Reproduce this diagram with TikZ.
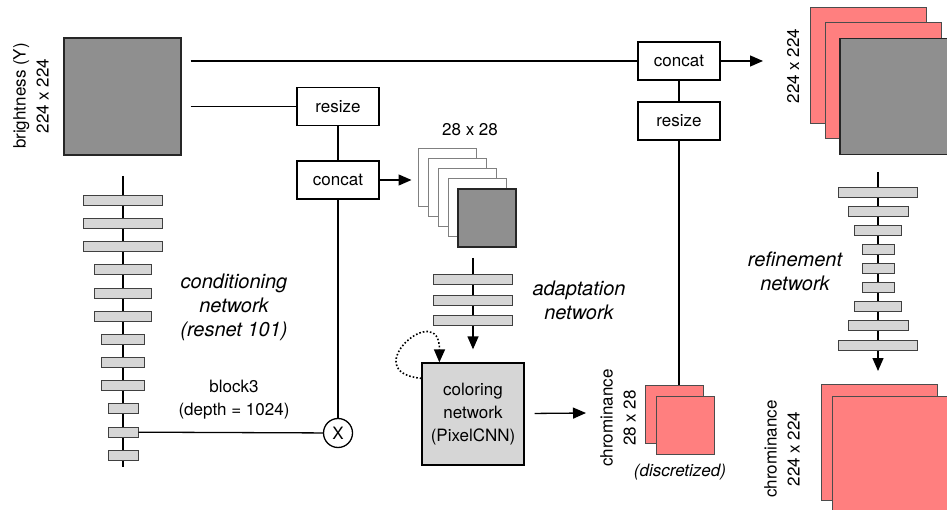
\documentclass[tikz,border=0pt]{standalone}
\usepackage{fontspec}
\setsansfont{TeX Gyre Heros}
\usetikzlibrary{arrows.meta,positioning}
\definecolor{mapgray}{HTML}{8F8F8F}
\definecolor{layergray}{HTML}{D6D6D6}
\definecolor{chroma}{HTML}{FF7F7F}

\begin{document}
\begin{tikzpicture}[x=1pt,y=-1pt,>={Triangle[length=13pt,width=11pt]},
  line width=1.3pt,node distance=60pt,
  every node/.style={font=\sffamily\fontsize{17}{23}\selectfont,align=center},
  note/.style={font=\sffamily\itshape\fontsize{20}{24}\selectfont},
  main node/.style={rectangle,draw,fill=white,inner sep=0pt,
    minimum width=82pt,minimum height=38pt},
  gray map/.style={rectangle,draw=black!85,fill=mapgray,inner sep=0pt},
  white map/.style={rectangle,draw=gray,fill=white,line width=1pt,inner sep=0pt,
    minimum size=58pt},
  chroma map/.style={rectangle,draw=black!70,fill=chroma,line width=1pt,inner sep=0pt},
  layer/.style={rectangle,draw=black!75,fill=layergray,line width=1pt,
    inner sep=0pt,minimum height=10pt}]

  \useasboundingbox (0,0) rectangle (947,510);
  \clip (0,0) rectangle (947,510);

  % input and feature maps
  \node[gray map,minimum size=117pt] (Bright) at (122.5,96.5) {};
  \node[rotate=90] (BrightLbl) at (31,96) {brightness (Y)\\224 x 224};
  \foreach \i in {0,...,3}
    \node[white map] (Feat\i) at (447+10*\i,178+10*\i) {};
  \node[gray map,minimum size=58pt] (Feat4) at (487,218) {};
  \node (FeatLbl) at (470,130) {28 x 28};

  \node[main node] (ResizeA) at (338,106.5) {resize};
  \node[main node] (ConcatA) [node distance=73.5pt, below of=ResizeA] {concat};
  \node[main node] (ConcatB) at (679,61) {concat};
  \node[main node] (ResizeB) [below of=ConcatB] {resize};
  \node[circle,draw,fill=white,inner sep=0pt,minimum size=29pt] (Mult) at (338,433) {X};
  \node[rectangle,draw,fill=layergray,inner sep=0pt,minimum size=102pt] (Color) at (473,414)
    {coloring\\network\\(PixelCNN)};

  % chrominance outputs
  \node[chroma map,minimum size=58pt] (Chroma1) at (674,414) {};
  \node[chroma map,minimum size=58pt] (Chroma2) at (685,425) {};
  \node[rotate=90] (ChromaLbl) at (618,418) {chrominance\\28 x 28};
  \node[note,font=\sffamily\itshape\fontsize{17}{23}\selectfont] (Discr) at (680,472) {(discretized)};

  \node[chroma map,minimum size=116pt] (Out1) at (868.5,66) {};
  \node[chroma map,minimum size=116pt] (Out2) at (883.5,81) {};
  \node[gray map,minimum size=116pt] (Out3) at (898,96.5) {};
  \node[rotate=90] (OutLbl) at (793,66) {224 x 224};

  \node[chroma map,minimum size=116pt] (Final1) at (879,442.5) {};
  \node[chroma map,minimum size=116pt] (Final2) at (890,454) {};
  \node[rotate=90] (FinalLbl) at (782,449) {chrominance\\224 x 224};

  % network labels
  \node[note] (CondLbl) at (234,307) {conditioning\\network\\(resnet 101)};
  \node (BlockLbl) at (234,400) {block3\\(depth = 1024)};
  \node[note] (AdaptLbl) at (579,300) {adaptation\\network};
  \node[note] (RefLbl) at (795,271) {refinement\\network};

  \coordinate (CondTop) at (123,176);
  \coordinate (CondBot) at (123,467);
  \coordinate (AdaptTop) at (473,258);
  \coordinate (RefTop) at (878,172);
  \coordinate (ChromaIn) at (586,413);
  \coordinate (OutIn) at (763,61);

  \path
    (CondTop) edge (CondBot)
    (AdaptTop) edge[->,shorten >=13pt] (AdaptTop |- Color.north)
    (RefTop) edge[->,shorten >=13pt] (RefTop |- Final1.north);

  % layers
  \foreach \w [count=\i from 0] in {79,79,79,57,57,57,43,43,43,30,30,30}
    \node[layer,minimum width=\w pt] (Cond\i) at (123,200.3+23.18*\i) {};
  \foreach \w [count=\i from 0] in {79,79,79}
    \node[layer,minimum width=\w pt] (Adapt\i) at (473,280+20.5*\i) {};
  \foreach \w [count=\i from 0] in {79,60,47,32,32,32,47,60,79}
    \node[layer,minimum width=\w pt] (Ref\i) at (878,193+19*\i) {};

  \path
    (Bright.east |- ConcatB) edge[shorten <=9pt] (ConcatB)
    (Bright.east |- ResizeA) edge[shorten <=9pt] (ResizeA)
    (ResizeA) edge (ConcatA)
    (ConcatA) edge (Mult)
    (Cond10) edge (Mult)
    (ConcatA) edge[->,shorten >=6pt] (ConcatA -| Feat0.west)
    (ConcatB) edge (ResizeB)
    (ConcatB) edge[->] (OutIn)
    (ResizeB) edge (ResizeB |- Chroma1.north)
    (Color) edge[->,shorten <=10pt] (ChromaIn);

  \draw[->,dotted,line width=1.6pt] ([yshift=-16pt]Color.north west)
    .. controls (355,372) and (440,298) .. ([xshift=18pt]Color.north west);
\end{tikzpicture}
\end{document}
